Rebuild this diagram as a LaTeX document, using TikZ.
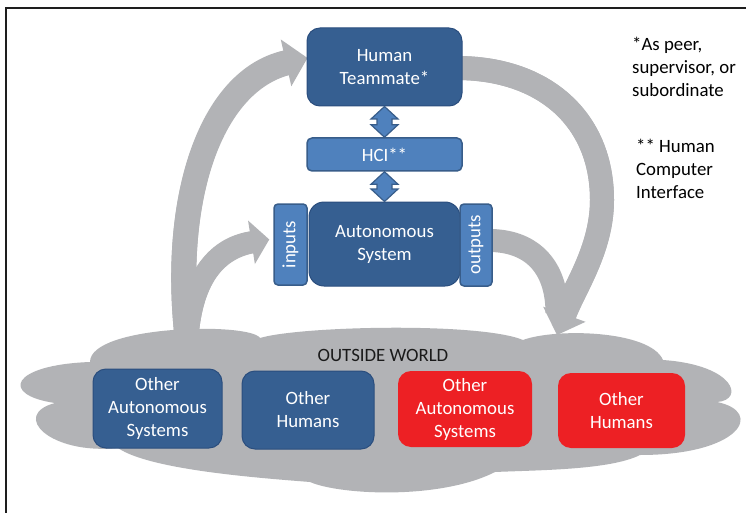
\documentclass[tikz,border=0pt]{standalone}
\usepackage{fontspec}
\setmainfont{Carlito}
\usetikzlibrary{arrows.meta,calc,backgrounds}

\definecolor{cGray}{HTML}{B2B3B6}
\definecolor{cDark}{HTML}{365F91}
\definecolor{cDarkEdge}{HTML}{2B4E7E}
\definecolor{cLight}{HTML}{4F81BD}
\definecolor{cLightEdge}{HTML}{385D8A}
\definecolor{cRed}{HTML}{ED2024}
\definecolor{cFrame}{HTML}{1E1E1E}
\definecolor{cInk}{HTML}{1A1A1A}

% vertical double-headed link between two anchors (same x)
\newcommand\hcilink[2]{%
  \draw[linkshape] let \p1=(#1), \p2=(#2) in
    (\x1,\y1) -- (\x1+13.5pt,\y1-12.5pt) -- (\x1+7.5pt,\y1-12.5pt)
    -- (\x1+7.5pt,\y2+12.5pt) -- (\x1+13.5pt,\y2+12.5pt) -- (\x1,\y2)
    -- (\x1-13.5pt,\y2+12.5pt) -- (\x1-7.5pt,\y2+12.5pt)
    -- (\x1-7.5pt,\y1-12.5pt) -- (\x1-13.5pt,\y1-12.5pt) -- cycle;}

\begin{document}
\begin{tikzpicture}[x=1pt,y=-1pt,
  font=\fontsize{18.8}{23}\selectfont,
  teambox/.style={fill=cDark,draw=cDarkEdge,line width=1pt,rounded corners=13pt,
    text=white,align=center,inner sep=0pt},
  lightpanel/.style={fill=cLight,draw=cLightEdge,line width=1.5pt,rounded corners=5pt,
    text=white,align=center,inner sep=0pt},
  redbox/.style={fill=cRed,rounded corners=13pt,text=white,align=center,inner sep=0pt},
  gflow/.style={draw=cGray,line width=#1,line cap=butt},
  linkshape/.style={fill=cLight,draw=cLightEdge,line width=1.2pt,line join=miter},
  note/.style={align=left,anchor=north west,inner sep=0pt,text=black}
]
\useasboundingbox (0,0) rectangle (746,513);

% ---- system boxes ----
\node[teambox,minimum width=155pt,minimum height=78pt] (tm) at (384.5,67) {Human\\Teammate*};
\node[lightpanel,minimum width=155pt,minimum height=33pt] (hci) at (384.5,154.5) {HCI**};
\node[teambox,rounded corners=15pt,minimum width=151pt,minimum height=84pt] (as) at (384.5,244) {Autonomous\\System};
\node[lightpanel,rounded corners=4pt,minimum width=33pt,minimum height=81pt] (inp) at (290.5,244.5) {};
\node[rotate=90,text=white,inner sep=0pt] (inptxt) at (inp) {inputs};
\node[lightpanel,rounded corners=4pt,minimum width=32pt,minimum height=82pt] (outp) at (476,245) {};
\node[rotate=90,text=white,inner sep=0pt] (outtxt) at (outp) {outputs};

\hcilink{tm.south}{hci.north}
\hcilink{hci.south}{as.north}

% ---- outside world ----
\node[text=cInk] (world) at (383,355) {OUTSIDE WORLD};
\node[teambox,minimum width=129pt,minimum height=79pt] (oas) at (157.5,408.5) {Other\\Autonomous\\Systems};
\node[teambox,minimum width=132pt,minimum height=78pt] (oh) at (308,410) {Other\\Humans};
\node[redbox,minimum width=134pt,minimum height=76pt] (ras) at (465,409) {Other\\Autonomous\\Systems};
\node[redbox,minimum width=127pt,minimum height=75pt] (rh) at (621.5,410.5) {Other\\Humans};

% ---- footnotes ----
\node[note] (peer) at (632,37) {*As peer,\\supervisor, or\\subordinate};
\node[note] (hcinote) at (636,139) {** Human\\Computer\\Interface};

\begin{pgfonlayer}{background}
  \fill[white] (0,0) rectangle (746,513);
  \draw[cFrame,line width=2pt] (6,513) -- (6,7.7) -- (746,7.7);

  % cloud
  \fill[cGray] (90,362) .. controls (90,325) and (250,322) .. (260,338)
    .. controls (300,326) and (480,322) .. (523,340)
    .. controls (555,328) and (650,330) .. (663,360)
    .. controls (735,365) and (745,400) .. (717,402)
    .. controls (765,412) and (740,455) .. (640,455)
    .. controls (610,470) and (540,470) .. (495,472)
    .. controls (440,500) and (340,495) .. (310,482)
    .. controls (260,478) and (150,470) .. (118,448)
    .. controls (50,455) and (10,415) .. (55,403)
    .. controls (0,395) and (10,365) .. (90,362) -- cycle;

  \coordinate (src1) at (188,345);
  \coordinate (src2) at (187,345);
  \coordinate (drop) at (557,335);

  % world -> teammate (second stroke runs the shaft into the head)
  \draw[gflow=25pt,-{Triangle[width=48pt,length=22pt,line width=0pt]}]
    (src1) .. controls (170,200) and (210,80) .. ($(tm.west)+(1,-9)$);
  \draw[gflow=25pt,shorten >=18pt]
    (src1) .. controls (170,200) and (210,80) .. ($(tm.west)+(1,-9)$);
  % world -> inputs
  \draw[gflow=22pt,-{Triangle[width=44pt,length=18pt,line width=0pt]}]
    (src2) .. controls (190,280) and (215,248) .. ($(inp.west)+(-4,-5)$);
  \draw[gflow=22pt,shorten >=14pt]
    (src2) .. controls (190,280) and (215,248) .. ($(inp.west)+(-4,-5)$);
  % outputs -> world (joins the teammate arrow head)
  \draw[gflow=23pt]
    ($(outp.east)+(-5,-4.5)$) .. controls (530,240) and (557,265) .. ($(drop)+(0,-22)$);
  % teammate -> world
  \draw[gflow=24pt,-{Triangle[width=45pt,length=22pt,line width=0pt]}]
    ($(tm.east)+(-6,1)$) .. controls (545,68) and (602,120) .. (602,200)
    .. controls (602,250) and (573,290) .. (drop);
  \draw[gflow=24pt,shorten >=18pt]
    ($(tm.east)+(-6,1)$) .. controls (545,68) and (602,120) .. (602,200)
    .. controls (602,250) and (573,290) .. (drop);
\end{pgfonlayer}
\end{tikzpicture}
\end{document}
